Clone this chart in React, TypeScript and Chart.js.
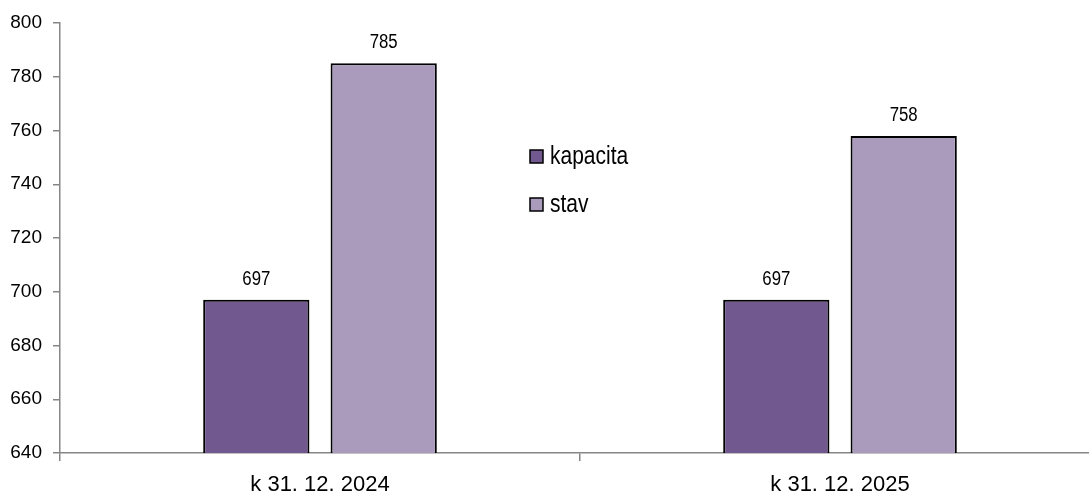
import React, { useEffect, useRef } from "react";
import { Chart, registerables } from "chart.js";

Chart.register(...registerables);

const categories = ["k 31. 12. 2024", "k 31. 12. 2025"];
const kapacitaValues = [697, 697];
const stavValues = [785, 758];
const seriesNames = ["kapacita", "stav"];
const yTicks = [640, 660, 680, 700, 720, 740, 760, 780, 800];

const FONT = "'Liberation Sans Narrow', 'Arial Narrow', 'Liberation Sans', Arial, sans-serif";
const COLORS = ["#71588F", "#AA9BBD"];
const AXIS = "#868686";

function drawNarrow(ctx: any, text: string, x: number, y: number, align: string) {
  // horizontally condensed text, like Arial Narrow
  const sx = 0.84;
  ctx.save();
  ctx.translate(x, y);
  ctx.scale(sx, 1);
  ctx.textAlign = align;
  ctx.fillText(text, 0, 0);
  ctx.restore();
}

const valueLabels = {
  id: "valueLabels",
  afterDatasetsDraw(chart: any) {
    const ctx = chart.ctx;
    ctx.save();
    ctx.font = `20px ${FONT}`;
    ctx.fillStyle = "#000";
    ctx.textBaseline = "alphabetic";
    chart.data.datasets.forEach((ds: any, i: number) => {
      const meta = chart.getDatasetMeta(i);
      meta.data.forEach((bar: any, j: number) => {
        drawNarrow(ctx, String(ds.data[j]), bar.x, bar.y - 15, "center");
      });
    });
    ctx.restore();
  },
};

const innerLegend = {
  id: "innerLegend",
  afterDraw(chart: any) {
    const ctx = chart.ctx;
    ctx.save();
    const x0 = 530;
    const y0 = 150;
    const step = 48;
    chart.data.datasets.forEach((ds: any, i: number) => {
      const y = y0 + i * step;
      ctx.fillStyle = ds.backgroundColor;
      ctx.fillRect(x0, y, 13, 13);
      ctx.lineWidth = 1.5;
      ctx.strokeStyle = "#000";
      ctx.strokeRect(x0, y, 13, 13);
      ctx.fillStyle = "#000";
      ctx.font = `25px ${FONT}`;
      ctx.textBaseline = "middle";
      drawNarrow(ctx, ds.label, x0 + 20, y + 7, "left");
    });
    ctx.restore();
  },
};

export default function App() {
  const ref = useRef<HTMLCanvasElement | null>(null);
  useEffect(() => {
    if (!ref.current) return;
    const chart = new Chart(ref.current, {
      type: "bar",
      data: {
        labels: categories,
        datasets: [
          {
            label: seriesNames[0],
            data: kapacitaValues,
            backgroundColor: COLORS[0],
            borderColor: "#000",
            borderWidth: 2,
            categoryPercentage: 0.49,
            barPercentage: 0.834,
          },
          {
            label: seriesNames[1],
            data: stavValues,
            backgroundColor: COLORS[1],
            borderColor: "#000",
            borderWidth: 2,
            categoryPercentage: 0.49,
            barPercentage: 0.834,
          },
        ],
      },
      options: {
        responsive: false,
        animation: false,
        layout: { padding: { top: 23, left: 0, right: 0, bottom: 0 } },
        plugins: {
          legend: { display: false },
          tooltip: { enabled: false },
        },
        scales: {
          x: {
            grid: {
              drawOnChartArea: false,
              drawTicks: true,
              tickLength: 8,
              color: AXIS,
              lineWidth: 1.5,
              offset: true,
            },
            border: { display: true, color: AXIS, width: 1.5 },
            ticks: {
              color: "#000",
              font: { family: FONT, size: 22 },
              padding: 11,
            },
            afterFit(scale: any) {
              scale.height = 45;
            },
          },
          y: {
            min: yTicks[0],
            max: yTicks[yTicks.length - 1],
            afterBuildTicks(scale: any) {
              scale.ticks = yTicks.map((v) => ({ value: v }));
            },
            grid: {
              drawOnChartArea: false,
              drawTicks: true,
              tickLength: 7,
              color: AXIS,
              lineWidth: 1.5,
            },
            border: { display: true, color: AXIS, width: 1.5 },
            ticks: {
              color: "#000",
              font: { family: FONT, size: 19 },
              padding: 11,
            },
            afterFit(scale: any) {
              scale.width = 60;
            },
          },
        },
      },
      plugins: [valueLabels, innerLegend],
    });
    return () => chart.destroy();
  }, []);
  return (
    <div
      style={{
        position: "fixed",
        left: 0,
        top: 0,
        width: 1089,
        height: 498,
        overflow: "hidden",
        background: "#fff",
      }}
    >
      <canvas ref={ref} width={1100} height={498} style={{ display: "block" }} />
    </div>
  );
}
